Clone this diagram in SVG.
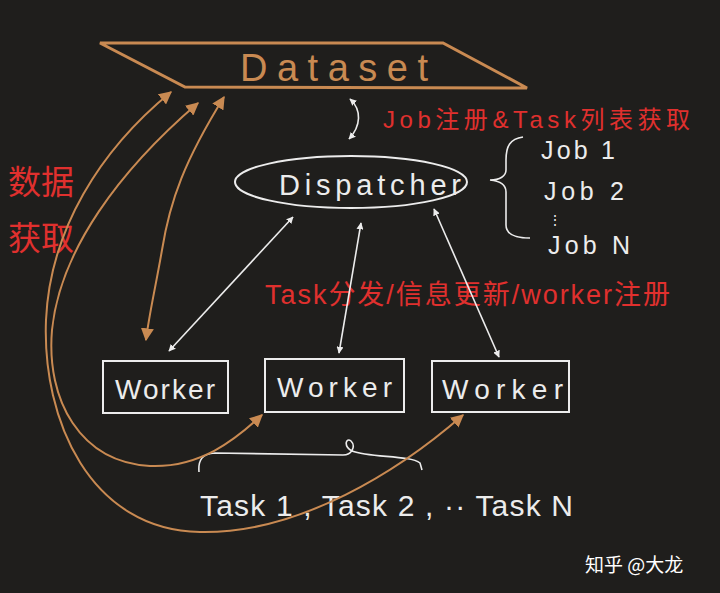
<svg xmlns="http://www.w3.org/2000/svg" width="720" height="593" viewBox="0 0 720 593">
<defs>
<marker id="wa" viewBox="0 0 10 10" refX="9" refY="5" markerWidth="7" markerHeight="7" markerUnits="userSpaceOnUse" orient="auto-start-reverse"><path d="M0,0 L10,5 L0,10 Z" fill="#ececec"/></marker>
<marker id="oa" viewBox="0 0 10 10" refX="9" refY="5" markerWidth="13" markerHeight="13" markerUnits="userSpaceOnUse" orient="auto-start-reverse"><path d="M0,0 L10,5 L0,10 Z" fill="#c98a52"/></marker>
<style>
.w{fill:none;stroke:#ececec;stroke-width:1.6}
.o{fill:none;stroke:#c98a52;stroke-width:2}
.box{fill:none;stroke:#ececec;stroke-width:2}
.t{font-family:"Liberation Sans","Noto Sans CJK SC",sans-serif;fill:#ececec}
.r{font-family:"Liberation Sans","Noto Sans CJK SC",sans-serif;fill:#e0302e}
</style>
</defs>
<rect width="720" height="593" fill="#1f1e1c"/>
<g id="dataset">
<polygon points="100,43 443,43 527,88 185,87" fill="none" stroke="#c98a52" stroke-width="3"/>
<text x="240" y="81" font-size="38" fill="#c98a52" font-family="Liberation Sans, sans-serif" textLength="188" lengthAdjust="spacing">Dataset</text>
</g>
<g id="dispatcher">
<ellipse cx="351" cy="182" rx="116" ry="26" fill="none" stroke="#ececec" stroke-width="2"/>
<text class="t" x="279" y="195" font-size="29" textLength="182" lengthAdjust="spacing">Dispatcher</text>
</g>
<g id="worker1">
<rect class="box" x="103" y="361" width="125" height="52"/>
<text class="t" x="115" y="399" font-size="28" textLength="100" lengthAdjust="spacing">Worker</text>
</g>
<g id="worker2">
<rect class="box" x="265" y="359" width="139" height="53"/>
<text class="t" x="277" y="397" font-size="28" textLength="115" lengthAdjust="spacing">Worker</text>
</g>
<g id="worker3">
<rect class="box" x="432" y="361" width="137" height="51"/>
<text class="t" x="442" y="399" font-size="28" textLength="121" lengthAdjust="spacing">Worker</text>
</g>
<g id="jobs">
<path class="w" d="M523,137 C510,139 506,146 506,160 L506,170 C506,176 500,180 490,180 C500,181 506,185 506,192 L506,225 C506,234 515,238 530,238"/>
<text class="t" x="541" y="159" font-size="25" textLength="74" lengthAdjust="spacing">Job 1</text>
<text class="t" x="544" y="200" font-size="25" textLength="80" lengthAdjust="spacing">Job 2</text>
<text class="t" x="548" y="225" font-size="14">⋮</text>
<text class="t" x="548" y="254" font-size="25" textLength="82" lengthAdjust="spacing">Job N</text>
</g>
<g id="tasks">
<path class="w" d="M199,472 C198,460 202,454 215,453 L343,455 C352,455 356,446 351,441 C346,437 343,446 352,451 C370,458 410,455 420,463 L422,470"/>
<text class="t" x="200" y="516" font-size="30" textLength="373" lengthAdjust="spacing">Task 1 , Task 2 , ·· Task N</text>
</g>
<g id="labels">
<text class="r" x="383" y="128" font-size="24" textLength="307" lengthAdjust="spacing">Job注册&amp;Task列表获取</text>
<text class="r" x="265" y="304" font-size="27" textLength="405" lengthAdjust="spacing">Task分发/信息更新/worker注册</text>
<text class="r" x="8" y="194" font-size="33">数据</text>
<text class="r" x="8" y="250" font-size="33">获取</text>
</g>
<g id="connectors">
<path class="w" d="M350,99 C362,110 361,126 349,139" marker-start="url(#wa)" marker-end="url(#wa)"/>
<line class="w" x1="293" y1="217" x2="169" y2="351" marker-start="url(#wa)" marker-end="url(#wa)"/>
<line class="w" x1="361" y1="223" x2="339" y2="353" marker-start="url(#wa)" marker-end="url(#wa)"/>
<line class="w" x1="434" y1="209" x2="499" y2="357" marker-start="url(#wa)" marker-end="url(#wa)"/>
<path class="o" d="M224,97 C185,160 170,200 162,250 C155,290 149,315 146,340" marker-start="url(#oa)" marker-end="url(#oa)"/>
<path class="o" d="M198,103 C120,170 60,250 52,330 C46,400 80,462 150,466 C200,468 235,440 262,415" marker-start="url(#oa)" marker-end="url(#oa)"/>
<path class="o" d="M171,92 C100,150 50,230 46,320 C42,420 90,530 200,532 C300,534 400,470 463,415" marker-start="url(#oa)" marker-end="url(#oa)"/>
</g>
<g id="watermark">
<text x="585" y="572" font-size="19" fill="#ffffff" font-family="Noto Sans CJK SC, sans-serif">知乎 @大龙</text>
</g>
</svg>
